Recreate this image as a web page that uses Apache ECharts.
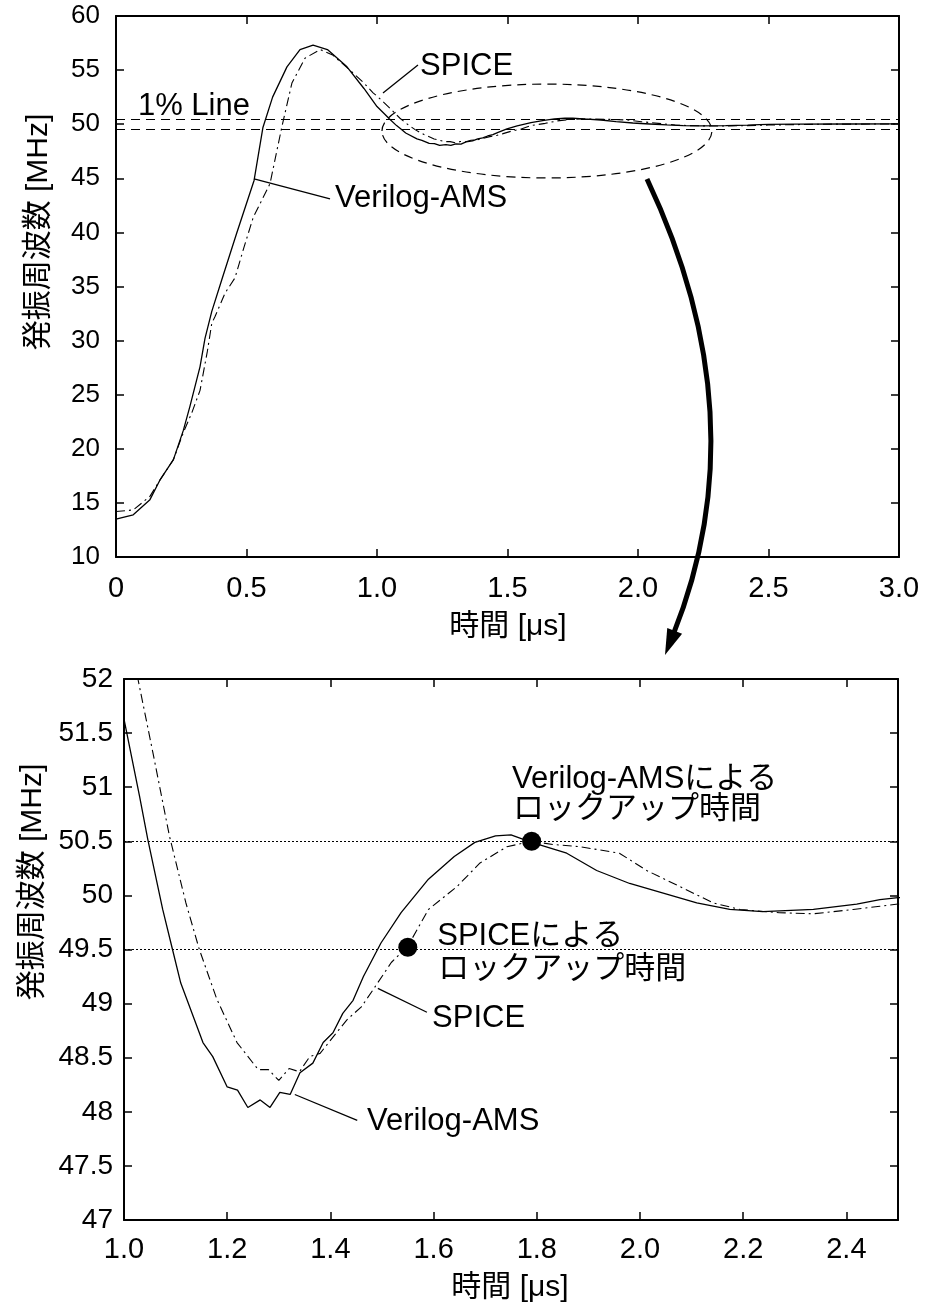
<!DOCTYPE html>
<html>
<head>
<meta charset="utf-8">
<script src="https://cdn.jsdelivr.net/npm/echarts@6/dist/echarts.min.js"></script>
<style>
html, body { margin: 0; background: #fff; }
#chart { width: 926px; height: 1308px; }
</style>
</head>
<body>
<div id="chart"></div>
<script>
// time [us], frequency [MHz]
const verilogAms = [
  [0, 13.5], [0.066, 13.9], [0.13, 15.3], [0.168, 17.1], [0.22, 19.0], [0.258, 21.7],
  [0.283, 23.9], [0.322, 27.6], [0.341, 30.2], [0.367, 32.7], [0.405, 35.6], [0.462, 39.9],
  [0.529, 44.8], [0.563, 49.7], [0.6, 52.5], [0.655, 55.3], [0.705, 56.9], [0.755, 57.3],
  [0.81, 56.9], [0.885, 55.3], [0.95, 53.3], [1.0, 51.63], [1.03, 50.92], [1.046, 50.52],
  [1.075, 49.87], [1.094, 49.5], [1.11, 49.19], [1.153, 48.64], [1.172, 48.51], [1.2, 48.23],
  [1.22, 48.2], [1.24, 48.04], [1.264, 48.11], [1.283, 48.04], [1.302, 48.18], [1.322, 48.16],
  [1.341, 48.36], [1.366, 48.45], [1.386, 48.64], [1.405, 48.73], [1.424, 48.91], [1.444, 49.03],
  [1.464, 49.25], [1.498, 49.56], [1.537, 49.84], [1.59, 50.15], [1.64, 50.36], [1.68, 50.49],
  [1.72, 50.55], [1.75, 50.56], [1.79, 50.49], [1.858, 50.39], [1.916, 50.23], [1.98, 50.11],
  [2.045, 50.02], [2.11, 49.93], [2.174, 49.87], [2.238, 49.85], [2.336, 49.87], [2.42, 49.92],
  [2.465, 49.96], [2.5, 49.98], [2.6, 50.0], [2.8, 50.02], [3.0, 50.03]
];
const spice = [
  [0, 14.2], [0.066, 14.35], [0.13, 15.6], [0.168, 17.1], [0.22, 19.0], [0.258, 21.5],
  [0.29, 23.3], [0.322, 25.4], [0.35, 29.0], [0.367, 31.6], [0.379, 32.2], [0.418, 34.4],
  [0.456, 35.8], [0.49, 38.6], [0.526, 41.4], [0.59, 44.5], [0.635, 49.7], [0.674, 53.8],
  [0.724, 56.1], [0.782, 56.9], [0.83, 56.4], [0.91, 54.7], [0.95, 53.8], [0.985, 52.9],
  [1.0, 52.6], [1.027, 52.0], [1.056, 51.32], [1.088, 50.55], [1.12, 49.93], [1.146, 49.5],
  [1.18, 49.04], [1.219, 48.64], [1.26, 48.39], [1.28, 48.39], [1.3, 48.29], [1.32, 48.4],
  [1.34, 48.37], [1.36, 48.51], [1.38, 48.54], [1.405, 48.69], [1.432, 48.85], [1.46, 48.97],
  [1.483, 49.13], [1.518, 49.38], [1.55, 49.53], [1.59, 49.87], [1.645, 50.08], [1.69, 50.3],
  [1.742, 50.45], [1.79, 50.5], [1.832, 50.47], [1.884, 50.45], [1.96, 50.39], [2.013, 50.23],
  [2.078, 50.08], [2.142, 49.93], [2.194, 49.87], [2.27, 49.84], [2.336, 49.83], [2.413, 49.87],
  [2.465, 49.9], [2.5, 49.92], [2.7, 50.0], [3.0, 50.02]
];
const limitLines = [50.5, 49.5];                 // 1% band
const lockupPoints = [[1.79, 50.5], [1.55, 49.52]]; // Verilog-AMS, SPICE

const font = 'Liberation Sans, Arial, Noto Sans CJK JP, sans-serif';
const black = '#000';

const axisLine = { onZero: false, lineStyle: { color: black, width: 2 } };
const axisTick = { inside: true, length: 8, lineStyle: { color: black, width: 1.5 } };

function axis(grid, min, max, interval, position, label) {
  return {
    type: 'value', gridIndex: grid, min: min, max: max, interval: interval, position: position,
    axisLine: axisLine, axisTick: axisTick, splitLine: { show: false },
    axisLabel: label ? Object.assign({ fontFamily: font, fontSize: 26, color: black }, label) : { show: false }
  };
}

const chart = echarts.init(document.getElementById('chart'));

chart.setOption({
  animation: false,
  backgroundColor: '#fff',
  grid: [
    { left: 116, top: 16, width: 783, height: 541 },
    { left: 124, top: 679, width: 774, height: 541 }
  ],
  xAxis: [
    axis(0, 0, 3, 0.5, 'bottom', { margin: 17, fontSize: 29, formatter: v => v === 0 ? '0' : v.toFixed(1) }),
    axis(0, 0, 3, 0.5, 'top', null),
    axis(1, 1, 2.5, 0.2, 'bottom', { margin: 15, fontSize: 29, showMaxLabel: false, formatter: v => v.toFixed(1) }),
    axis(1, 1, 2.5, 0.2, 'top', null)
  ],
  yAxis: [
    axis(0, 10, 60, 5, 'left', { margin: 16 }),
    axis(0, 10, 60, 5, 'right', null),
    axis(1, 47, 52, 0.5, 'left', { margin: 11, fontSize: 28 }),
    axis(1, 47, 52, 0.5, 'right', null)
  ],
  series: [
    {
      name: 'Verilog-AMS', type: 'line', xAxisIndex: 0, yAxisIndex: 0, data: verilogAms,
      symbol: 'none', lineStyle: { color: black, width: 1.3 },
      markLine: {
        silent: true, symbol: ['none', 'none'], label: { show: false },
        lineStyle: { color: black, type: [9, 6], width: 1.2 },
        data: limitLines.map(v => ({ yAxis: v }))
      }
    },
    {
      name: 'SPICE', type: 'line', xAxisIndex: 0, yAxisIndex: 0, data: spice,
      symbol: 'none', lineStyle: { color: black, width: 1.1, type: [9, 4, 2, 4] }
    },
    {
      name: 'Verilog-AMS', type: 'line', xAxisIndex: 2, yAxisIndex: 2, data: verilogAms,
      symbol: 'none', lineStyle: { color: black, width: 1.3 },
      markLine: {
        silent: true, symbol: ['none', 'none'], label: { show: false },
        lineStyle: { color: black, type: [2, 2], width: 1 },
        data: limitLines.map(v => ({ yAxis: v }))
      }
    },
    {
      name: 'SPICE', type: 'line', xAxisIndex: 2, yAxisIndex: 2, data: spice,
      symbol: 'none', lineStyle: { color: black, width: 1.1, type: [9, 4, 2, 4] }
    },
    {
      type: 'scatter', xAxisIndex: 2, yAxisIndex: 2, data: lockupPoints, z: 5,
      symbolSize: 19, itemStyle: { color: black, opacity: 1 }
    }
  ]
});

// annotations, placed in data coordinates of each panel
const px = (g, pt) => chart.convertToPixel({ gridIndex: g }, pt);

function text(g, pt, str, extra) {
  const p = px(g, pt);
  return {
    type: 'text', x: p[0], y: p[1], z: 100,
    style: Object.assign({ text: str, font: '31px ' + font, fill: black, align: 'left', verticalAlign: 'middle' }, extra || {})
  };
}
function leader(g, a, b) {
  const p1 = px(g, a), p2 = px(g, b);
  return { type: 'line', z: 100, shape: { x1: p1[0], y1: p1[1], x2: p2[0], y2: p2[1] }, style: { stroke: black, lineWidth: 1.3 } };
}

const c = px(0, [1.651, 49.37]);
const e = px(0, [1.651 + 0.632, 49.37 - 4.34]);

// curved arrow from the ellipse to the lower panel
const start = [647, 179], ctrl = [760, 418], tip = [665, 655];
const dx = tip[0] - ctrl[0], dy = tip[1] - ctrl[1], len = Math.hypot(dx, dy);
const ux = dx / len, uy = dy / len;
const headLen = 26, headW = 8;
const base = [tip[0] - ux * headLen, tip[1] - uy * headLen];

const graphics = [
  { type: 'ellipse', z: 100, shape: { cx: c[0], cy: c[1], rx: e[0] - c[0], ry: e[1] - c[1] },
    style: { fill: 'none', stroke: black, lineWidth: 1.2, lineDash: [9, 6] } },
  { type: 'bezierCurve', z: 100,
    shape: { x1: start[0], y1: start[1], cpx1: ctrl[0], cpy1: ctrl[1], x2: base[0] + ux * 4, y2: base[1] + uy * 4 },
    style: { fill: 'none', stroke: black, lineWidth: 5 } },
  { type: 'polygon', z: 100,
    shape: { points: [tip, [base[0] - uy * headW, base[1] + ux * headW], [base[0] + uy * headW, base[1] - ux * headW]] },
    style: { fill: black } },

  text(0, [0.084, 51.68], '1% Line'),
  leader(0, [1.023, 52.88], [1.157, 55.47]),
  text(0, [1.165, 55.38], 'SPICE'),
  leader(0, [0.529, 44.94], [0.82, 43.09]),
  text(0, [0.839, 43.18], 'Verilog-AMS'),

  leader(1, [1.492, 49.14], [1.587, 48.92]),
  text(1, [1.597, 48.86], 'SPICE'),
  leader(1, [1.331, 48.16], [1.452, 47.92]),
  text(1, [1.471, 47.91], 'Verilog-AMS'),
  text(1, [1.607, 49.625], 'SPICEによる'),
  text(1, [1.609, 49.32], 'ロックアップ時間'),
  text(1, [1.752, 51.07], 'Verilog-AMSによる'),
  text(1, [1.754, 50.79], 'ロックアップ時間'),

  // axis titles
  { type: 'text', x: 508, y: 627, style: { text: '時間 [μs]', font: '30px ' + font, fill: black, align: 'center', verticalAlign: 'middle' } },
  { type: 'text', x: 510, y: 1288, style: { text: '時間 [μs]', font: '30px ' + font, fill: black, align: 'center', verticalAlign: 'middle' } },
  { type: 'text', x: 39, y: 232, rotation: Math.PI / 2, style: { text: '発振周波数 [MHz]', font: '30px ' + font, fill: black, align: 'center', verticalAlign: 'middle' } },
  { type: 'text', x: 33, y: 882, rotation: Math.PI / 2, style: { text: '発振周波数 [MHz]', font: '30px ' + font, fill: black, align: 'center', verticalAlign: 'middle' } }
];

chart.setOption({ graphic: graphics });
</script>
</body>
</html>
